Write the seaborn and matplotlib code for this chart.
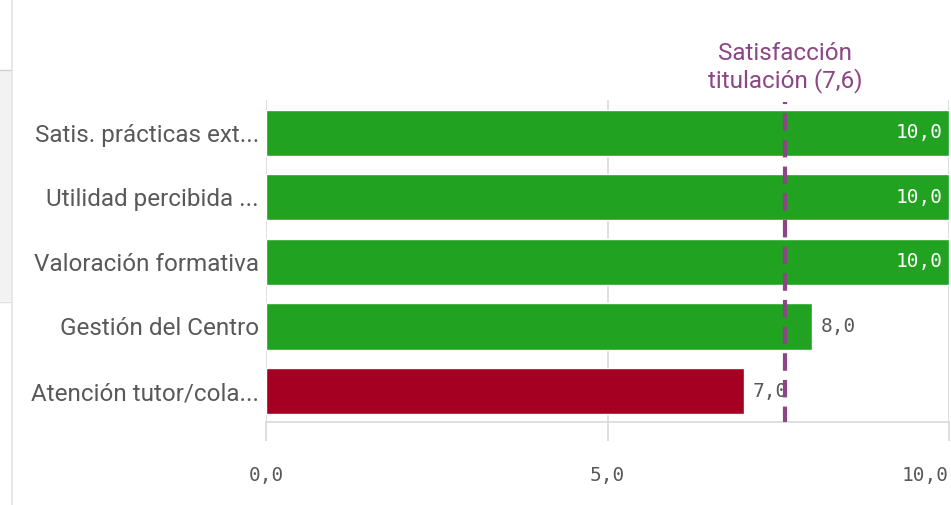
import matplotlib
matplotlib.use("Agg")
import matplotlib.pyplot as plt
import seaborn as sns
import pandas as pd
from matplotlib.patches import Rectangle
from matplotlib.lines import Line2D

categories = ["Satis. prácticas ext...", "Utilidad percibida ...", "Valoración formativa",
              "Gestión del Centro", "Atención tutor/cola..."]
values = [10.0, 10.0, 10.0, 8.0, 7.0]
bar_colors = ["#21a221", "#21a221", "#21a221", "#21a221", "#a50021"]
ref_value = 7.6
ref_label = "Satisfacción\ntitulación (7,6)"
xticks = [0, 5, 10]
xtick_labels = ["0,0", "5,0", "10,0"]

sns.set_theme(style="white")
plt.rcParams['font.family'] = ['Roboto', 'DejaVu Sans']

fig = plt.figure(figsize=(9.51, 5.05), dpi=100)
ax = fig.add_axes([266/951, 1-422/505, (949-266)/951, (422-100)/505])

df = pd.DataFrame({"cat": categories, "val": values})
sns.barplot(data=df, x="val", y="cat", hue="cat", palette=bar_colors, legend=False,
            orient="h", width=0.713, ax=ax, saturation=1, zorder=2)

ax.set_xlim(0, 10)
ax.set_ylim(4.48, -0.51)
ax.set_xlabel("")
ax.set_ylabel("")

grid_c = "#d9d9d9"
for s in ["top", "left", "right"]:
    ax.spines[s].set_visible(False)
ax.spines["bottom"].set_color(grid_c)
ax.spines["bottom"].set_linewidth(1.2)
for x in xticks:
    ax.axvline(x, color=grid_c, lw=1.2, zorder=0)

ax.set_xticks(xticks)
ax.set_xticklabels(xtick_labels, family="DejaVu Sans Mono", color="#595959", fontsize=14)
labs = ax.get_xticklabels()
labs[-1].set_horizontalalignment("right")
labs[-1].set_x(10)
ax.tick_params(axis="x", length=14, width=1.2, color=grid_c, pad=18, bottom=True)
ax.tick_params(axis="y", length=0, pad=5, labelsize=17.5, labelcolor="#595959")

# value labels
for i, v in enumerate(values):
    lab = f"{v:.1f}".replace(".", ",")
    if v >= 9.5:
        ax.text(v - 0.1, i, lab, ha="right", va="center", color="white",
                family="DejaVu Sans Mono", fontsize=14, zorder=3)
    else:
        ax.text(v + 0.12, i, lab, ha="left", va="center", color="#595959",
                family="DejaVu Sans Mono", fontsize=14, zorder=3)

# reference line
ref_c = "#8c4585"
ax.axvline(ref_value, ymin=0, ymax=1 - 2/322, color=ref_c, lw=3, ls=(0.5, (4.2, 2.2)), zorder=4)
ax.text(ref_value, -0.62, ref_label, ha="center", va="bottom", color=ref_c,
        fontsize=17.5, linespacing=1.15, clip_on=False)

# left UI strip
fig.patches.append(Rectangle((0, 1-300/505), 10/951, (300-70)/505, transform=fig.transFigure,
                             color="#f2f2f2", zorder=0))
fig.lines.append(Line2D([12/951, 12/951], [0, 1], transform=fig.transFigure, color="#e3e3e3", lw=1.2))
fig.lines.append(Line2D([0, 10/951], [1-70/505, 1-70/505], transform=fig.transFigure, color="#d0d0d0", lw=1))
fig.lines.append(Line2D([0, 10/951], [1-302/505, 1-302/505], transform=fig.transFigure, color="#e0e0e0", lw=1))

fig.savefig("out.png", dpi=100)
